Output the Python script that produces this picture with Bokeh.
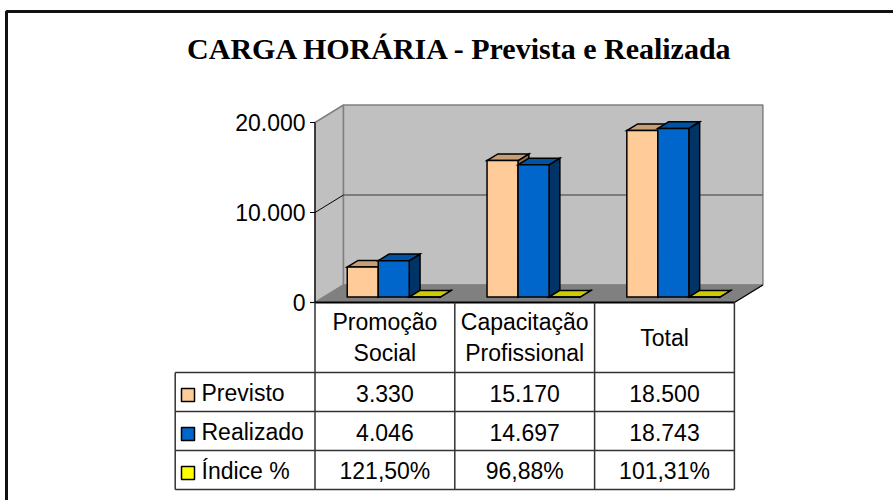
from bokeh.plotting import figure
from bokeh.models import Range1d
from bokeh.core.properties import value
from bokeh.embed import file_html
from bokeh.resources import INLINE

# ---------------- data ----------------
title_text = "CARGA HORÁRIA - Prevista e Realizada"
categories = ["Promoção\nSocial", "Capacitação\nProfissional", "Total"]
series_names = ["Previsto", "Realizado", "Índice %"]
previsto = [3330, 15170, 18500]
realizado = [4046, 14697, 18743]
indice = [121.50, 96.88, 101.31]          # percent
y_ticks = [0, 10000, 20000]
y_tick_labels = ["0", "10.000", "20.000"]

# ---------------- style / layout ----------------
front_colors = ["#FFCC99", "#0066CC", "#FFFF00"]
top_colors = ["#C79F77", "#0052A3", "#CCCC00"]
side_colors = ["#8C6E50", "#003366", "#808000"]
FONT = value("Liberation Sans")

W, H = 893, 500
X0, CW = 314.5, 139.8      # px of front axis, px per category
Y0, K = 302.0, 0.009       # px of zero, px per value unit


def xd(px):
    return (px - X0) / CW


def yd(py):
    return (Y0 - py) / K


DX = 28.5 / CW
DY = 17.5 / K
y_max = y_ticks[-1]
ncat = len(categories)

p = figure(width=W, height=H, output_backend="svg", toolbar_location=None,
           x_range=Range1d(xd(0), xd(W)),
           y_range=Range1d(yd(H), yd(0)),
           x_axis_type=None, y_axis_type=None, min_border=0,
           outline_line_color=None, background_fill_color="white",
           border_fill_color="white")

# outer chart frame (continues past the window)
p.line([xd(6), xd(6), xd(W + 20)], [yd(H + 20), yd(11), yd(11)],
       line_color="#111111", line_width=3)

# title
p.text(x=[xd(460)], y=[yd(48)], text=[title_text],
       text_font=value("Liberation Serif"), text_font_style="bold",
       text_font_size="30px", text_align="center", text_baseline="middle",
       text_color="black")

# ---------------- 3D box ----------------
# left wall
p.patch([0, DX, DX, 0], [0, DY, y_max + DY, y_max],
        fill_color="#C0C0C0", line_color="#808080", line_width=1.5)
# back wall
p.patch([DX, ncat + DX, ncat + DX, DX], [DY, DY, y_max + DY, y_max + DY],
        fill_color="#C0C0C0", line_color="#808080", line_width=1.5)
# gridlines
for t in y_ticks[1:-1]:
    p.line([DX, ncat + DX], [t + DY, t + DY], line_color="#666666", line_width=1.5)
    p.line([0, DX], [t, t + DY], line_color="black", line_width=1)
# floor
p.patch([0, ncat, ncat + DX, DX], [0, 0, DY, DY],
        fill_color="#808080", line_color="#808080", line_width=1)
p.line([ncat, ncat + DX], [0, DY], line_color="black", line_width=1.2)

# ---------------- bars ----------------
series = [previsto, realizado, [v / 100.0 for v in indice]]
bw = 31.0 / CW
gap = (1 - 3 * bw) / 2
df, db = 0.31, 0.69
xs, ys, fills = [], [], []
for i in range(ncat):
    for j, vals in enumerate(series):
        v = vals[i]
        xl = i + gap + j * bw
        xr = xl + bw
        fx, fy = df * DX, df * DY
        bx, by = db * DX, db * DY
        # side
        xs.append([xr + fx, xr + bx, xr + bx, xr + fx])
        ys.append([fy, by, v + by, v + fy])
        fills.append(side_colors[j])
        # top
        xs.append([xl + fx, xr + fx, xr + bx, xl + bx])
        ys.append([v + fy, v + fy, v + by, v + by])
        fills.append(top_colors[j])
        # front
        xs.append([xl + fx, xr + fx, xr + fx, xl + fx])
        ys.append([fy, fy, v + fy, v + fy])
        fills.append(front_colors[j])
p.patches(xs, ys, fill_color=fills, line_color="black", line_width=1.5,
          line_join="miter")

# ---------------- value axis ----------------
p.line([0, 0], [0, y_max], line_color="black", line_width=1.2)
for t in y_ticks:
    p.line([xd(X0 - 5), 0], [t, t], line_color="black", line_width=1.2)
p.text(x=[xd(305)] * len(y_ticks), y=y_ticks, text=y_tick_labels,
       text_font=FONT, text_font_size="23px", text_align="right",
       text_baseline="middle", text_color="black")

# ---------------- data table ----------------
row_lines = [Y0, 372, 411, 450, 489]
tbl_col = "#333333"
# floor front edge / table top
p.line([0, ncat], [0, 0], line_color="black", line_width=2.2)
# verticals of category columns
for c in range(ncat + 1):
    p.line([c, c], [0, yd(row_lines[-1])], line_color=tbl_col, line_width=1.5)
# legend column left edge
p.line([-1, -1], [yd(row_lines[1]), yd(row_lines[-1])], line_color=tbl_col, line_width=1.5)
for r in row_lines[1:]:
    p.line([-1, ncat], [yd(r), yd(r)], line_color=tbl_col, line_width=1.5)

# header texts
p.text(x=[i + 0.5 for i in range(ncat)], y=[yd((row_lines[0] + row_lines[1]) / 2)] * ncat,
       text=categories, text_font=FONT, text_font_size="23px",
       text_align="center", text_baseline="middle", text_line_height=1.2,
       text_color="black")


def fmt_int(v):
    return f"{v:,}".replace(",", ".")


def fmt_pct(v):
    return f"{v:.2f}".replace(".", ",") + "%"


rows_text = [[fmt_int(v) for v in previsto],
             [fmt_int(v) for v in realizado],
             [fmt_pct(v) for v in indice]]
for r, texts in enumerate(rows_text):
    yc = yd((row_lines[r + 1] + row_lines[r + 2]) / 2 + 1)
    p.text(x=[i + 0.5 for i in range(ncat)], y=[yc] * ncat, text=texts,
           text_font=FONT, text_font_size="23px", text_align="center",
           text_baseline="middle", text_color="black")
    # legend swatch and name
    sw = 13
    p.quad(left=[xd(181)], right=[xd(181 + sw)],
           top=[yd((row_lines[r + 1] + row_lines[r + 2]) / 2 + 3 - sw / 2)],
           bottom=[yd((row_lines[r + 1] + row_lines[r + 2]) / 2 + 3 + sw / 2)],
           fill_color=front_colors[r], line_color="black", line_width=1.5)
    p.text(x=[xd(201)], y=[yc], text=[series_names[r]], text_font=FONT,
           text_font_size="23px", text_align="left", text_baseline="middle",
           text_color="black")

open("out.html", "w").write(file_html(p, INLINE))
